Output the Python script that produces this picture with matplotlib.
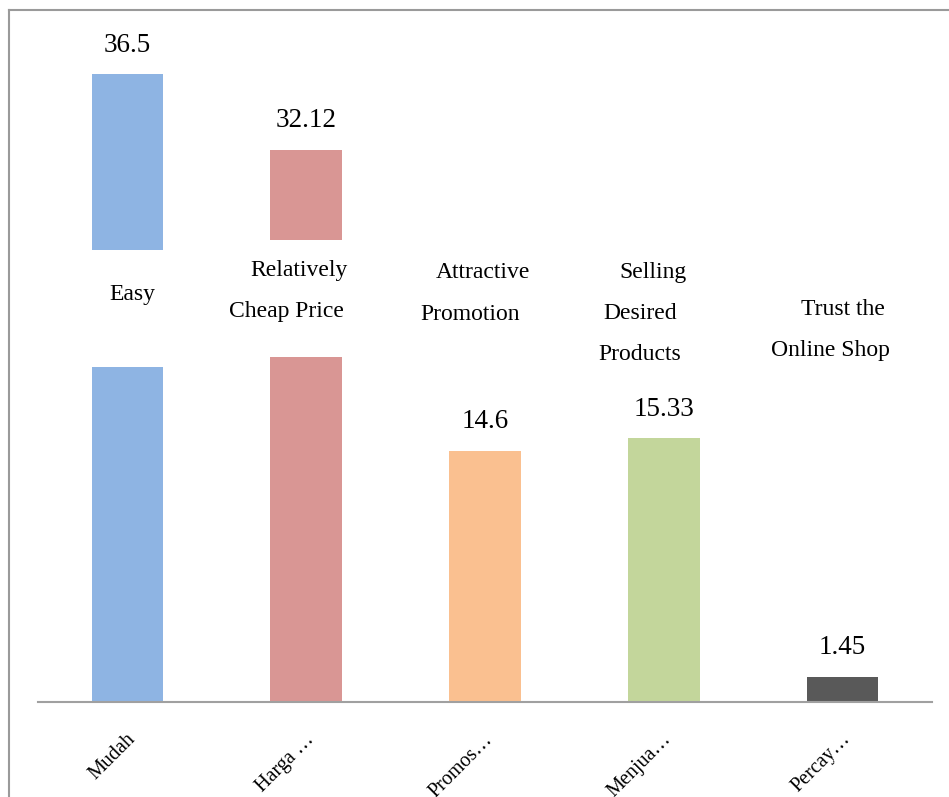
import matplotlib
matplotlib.use("Agg")
import matplotlib.pyplot as plt
import matplotlib.transforms as mtransforms
from matplotlib.patches import Rectangle
from matplotlib.lines import Line2D

# data
tick_labels = ["Mudah", "Harga …", "Promos…", "Menjua…", "Percay…"]
values = [36.5, 32.12, 14.6, 15.33, 1.45]
value_text = ["36.5", "32.12", "14.6", "15.33", "1.45"]
english = [["Easy"], ["Relatively", "Cheap Price"], ["Attractive", "Promotion"],
           ["Selling", "Desired", "Products"], ["Trust the", "Online Shop"]]
colors = ["#8EB4E3", "#D99694", "#FAC090", "#C3D69B", "#595959"]

# layout: centre of each english line (data coords), white boxes behind labels
line_pos = [[(0.026, 23.7)],
            [(0.96, 25.08), (0.887, 22.7)],
            [(1.989, 24.97), (1.916, 22.52)],
            [(2.94, 24.97), (2.867, 22.58), (2.867, 20.2)],
            [(4.002, 22.82), (3.93, 20.43)]]
white_boxes = [(0, 19.48, 26.28), (1, 20.06, 26.86)]

plt.rcParams['font.family'] = ['Liberation Serif', 'DejaVu Serif']

fig = plt.figure(figsize=(9.49, 7.97), dpi=100)
ax = fig.add_axes([38 / 949, 95 / 797, 894 / 949, 688 / 797])

x = list(range(len(values)))
bars = ax.bar(x, values, width=0.40, color=colors, zorder=1)

for xi, lo, hi in white_boxes:
    ax.add_patch(Rectangle((xi - 0.25, lo), 0.5, hi - lo, facecolor="white",
                           edgecolor="none", zorder=2))

for b, t in zip(bars, value_text):
    ax.annotate(t, (b.get_x() + b.get_width() / 2, b.get_height()),
                xytext=(0, 21), textcoords="offset points",
                ha="center", va="center", fontsize=19.5, zorder=3)

for lines, poss in zip(english, line_pos):
    for t, (lx, ly) in zip(lines, poss):
        ax.text(lx, ly, t, ha="center", va="center", fontsize=17, zorder=3)

ax.set_xlim(-0.5, 4.5)
ax.set_ylim(0, 40)
ax.set_xticks(x)
ax.set_xticklabels(tick_labels, rotation=45, ha="right", va="center",
                   rotation_mode="anchor", fontsize=14.5)
ax.tick_params(axis="x", length=0, pad=25)
shift = mtransforms.ScaledTranslation(5 / 100, 0, fig.dpi_scale_trans)
for lab in ax.get_xticklabels():
    lab.set_transform(lab.get_transform() + shift)
ax.set_yticks([])
for s in ["top", "right", "left"]:
    ax.spines[s].set_visible(False)
ax.spines["bottom"].set_color("#A0A0A0")
ax.spines["bottom"].set_linewidth(1.5)

# outer frame (left and top edges visible)
fig.add_artist(Line2D([8.5 / 949, 8.5 / 949], [0, 1 - 10 / 797], color="#9A9A9A", lw=1.5))
fig.add_artist(Line2D([8.5 / 949, 1], [1 - 10 / 797, 1 - 10 / 797], color="#9A9A9A", lw=1.5))

fig.savefig("out.png", dpi=100)
